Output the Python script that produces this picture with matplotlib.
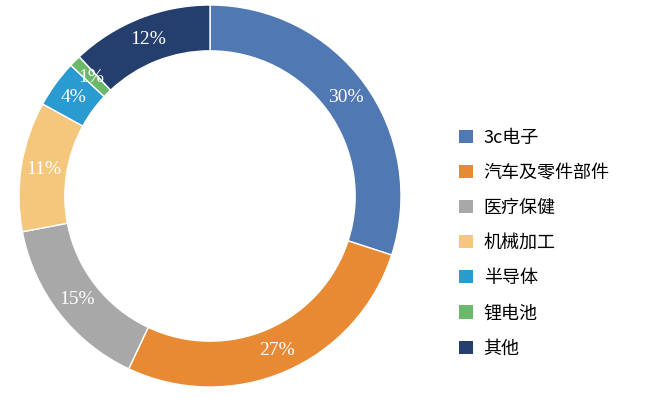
import matplotlib
matplotlib.use("Agg")
import matplotlib.pyplot as plt
from matplotlib.patches import Patch
import numpy as np

categories = ["3c电子", "汽车及零件部件", "医疗保健", "机械加工", "半导体", "锂电池", "其他"]
values = [30, 27, 15, 11, 4, 1, 12]
labels = ["30%", "27%", "15%", "11%", "4%", "1%", "12%"]
colors = ["#5078B3", "#E88A33", "#A8A8A8", "#F5C77C", "#2A9BD0", "#6CB86A", "#243F6E"]

plt.rcParams['font.family'] = ['Noto Sans CJK SC', 'DejaVu Sans']
fig = plt.figure(figsize=(6.57, 4.0), dpi=100)
R = 191
ax = fig.add_axes([(210 - R) / 657, (400 - 196 - R) / 400, 2 * R / 657, 2 * R / 400])
ax.pie(values, colors=colors, startangle=90, counterclock=False, radius=1,
       wedgeprops=dict(width=0.24, edgecolor="white", linewidth=1.0))
ax.set_xlim(-1, 1)
ax.set_ylim(-1, 1)
total = sum(values)
start = 90
for v, lab in zip(values, labels):
    mid = start - v / total * 360 / 2
    start -= v / total * 360
    r = 0.88
    ax.text(r * np.cos(np.radians(mid)), r * np.sin(np.radians(mid)), lab,
            ha="center", va="center", color="white", fontsize=14,
            family=["Liberation Serif"])
ax.set_aspect("equal")
ax.axis("off")

handles = [Patch(facecolor=c) for c in colors]
fig.legend(handles, categories, loc="center left", bbox_to_anchor=(443 / 657, 1 - 243 / 400),
           frameon=False, fontsize=13, handlelength=0.75, handleheight=0.75,
           labelspacing=0.95, handletextpad=0.6)
fig.savefig("out.png", dpi=100)
